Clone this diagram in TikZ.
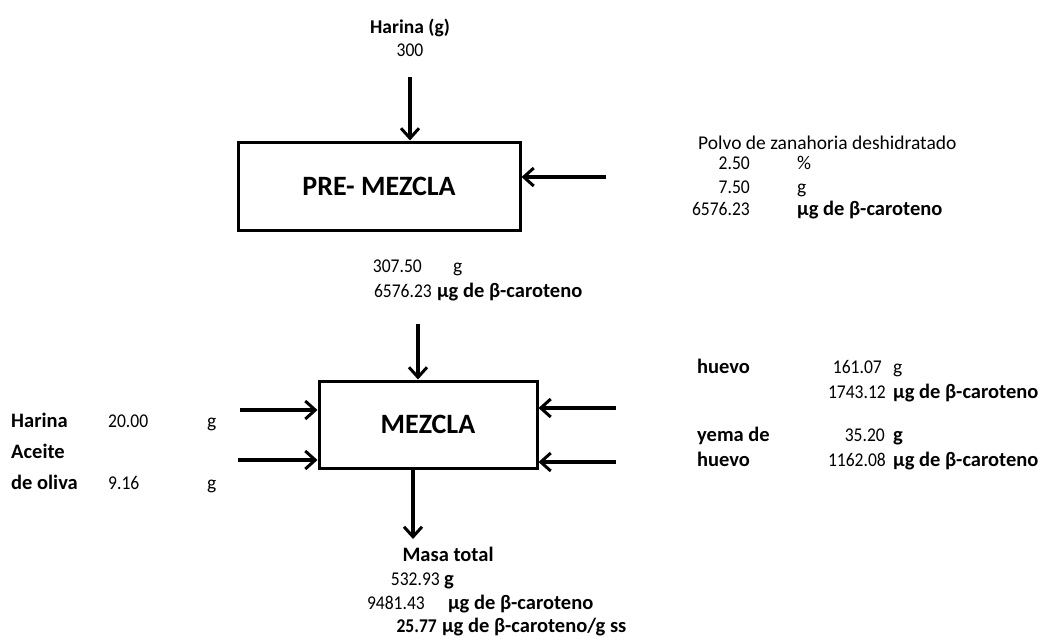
\documentclass[tikz,border=0pt]{standalone}
\usepackage{fontspec}
\setmainfont{Carlito}
\newfontfamily\nf[FakeStretch=0.9]{Carlito}
\newcommand\nm[1]{{\nf #1}}
\usetikzlibrary{arrows.meta}
\begin{document}
\begin{tikzpicture}[x=1pt,y=-1pt,
  t/.style={inner sep=0pt,anchor=base west,font=\fontsize{19.5}{22}\selectfont},
  tb/.style={t,font=\fontsize{20.5}{22}\selectfont\bfseries},
  tn/.style={t,anchor=base east},
  box/.style={draw,line width=3pt,inner sep=0pt,font=\fontsize{28}{30}\selectfont\bfseries},
  flow/.style={line width=3.4pt,-{Straight Barb[length=10pt,width=18pt,line width=3pt]}}]
\useasboundingbox (0,0) rectangle (1043,641);
% boxes
\node[box,minimum width=282pt,minimum height=88pt] (pre) at (379,186) {PRE- MEZCLA};
\node[box,minimum width=218pt,minimum height=87pt] (mez) at (428,424.5) {MEZCLA};
% free ends
\coordinate (a0) at (410,77);
\coordinate (a1) at (606,177);
\coordinate (a2) at (418,324);
\coordinate (l1) at (240,410);
\coordinate (l2) at (238,460);
\coordinate (r1) at (616,408);
\coordinate (r2) at (616,462);
\coordinate (a3) at (413,539);
% arrows
\draw[flow] (a0) -- (a0 |- pre.north);
\draw[flow] (a1) -- (a1 -| pre.east);
\draw[flow] (a2) -- (a2 |- mez.north);
\draw[flow] (l1) -- (l1 -| mez.west);
\draw[flow] (l2) -- (l2 -| mez.west);
\draw[flow] (r1) -- (r1 -| mez.east);
\draw[flow] (r2) -- (r2 -| mez.east);
\draw[flow] (a3 |- mez.south) -- (a3);
% top texts
\node[tb,anchor=base,font=\fontsize{19.5}{22}\selectfont\bfseries] (h0) at (410,33) {Harina (g)};
\node[t,anchor=base] (h0v) at (410,56) {\nm{300}};
\node[tn] (p1) at (422,272) {\nm{307.50}};
\node[t] (p1g) at (453,272) {g};
\node[tn] (p2) at (432,297) {\nm{6576.23}};
\node[tb] (p2u) at (437,297) {μg de β-caroteno};
% right top
\node[t] (pz) at (698,149) {Polvo de zanahoria deshidratado};
\node[tn] (pz1) at (750,169) {\nm{2.50}};
\node[t] (pz1u) at (797,169) {\%};
\node[tn] (pz2) at (750,193) {\nm{7.50}};
\node[t] (pz2u) at (797,193) {g};
\node[tn] (pz3) at (750,215) {\nm{6576.23}};
\node[tb] (pz3u) at (797,215) {μg de β-caroteno};
% left
\node[tb] (lh) at (11,427) {Harina};
\node[t] (lhv) at (108,427) {\nm{20.00}};
\node[t] (lhu) at (207,427) {g};
\node[tb] (la) at (11,458) {Aceite};
\node[tb] (lo) at (11,489) {de oliva};
\node[t] (lov) at (108,489) {\nm{9.16}};
\node[t] (lou) at (207,489) {g};
% right bottom
\node[tb] (hu) at (697,373) {huevo};
\node[tn] (huv) at (882,373) {\nm{161.07}};
\node[t] (huu) at (893,373) {g};
\node[tn] (huc) at (886,398) {\nm{1743.12}};
\node[tb] (hucu) at (893,398) {μg de β-caroteno};
\node[tb] (ye) at (697,441) {yema de};
\node[tn] (yev) at (885,441) {\nm{35.20}};
\node[tb] (yeu) at (893,441) {g};
\node[tb] (ye2) at (697,466) {huevo};
\node[tn] (yec) at (886,466) {\nm{1162.08}};
\node[tb] (yecu) at (893,466) {μg de β-caroteno};
% bottom
\node[tb,anchor=base] (mt) at (448,561) {Masa total};
\node[tn] (mt1) at (440,585) {\nm{532.93}};
\node[tb] (mt1u) at (444,585) {g};
\node[tn] (mt2) at (425,609) {\nm{9481.43}};
\node[tb] (mt2u) at (448,609) {μg de β-caroteno};
\node[tn] (mt3) at (437,632) {\textbf{\nm{25.77}}};
\node[tb] (mt3u) at (442,632) {μg de β-caroteno/g ss};
\end{tikzpicture}
\end{document}
